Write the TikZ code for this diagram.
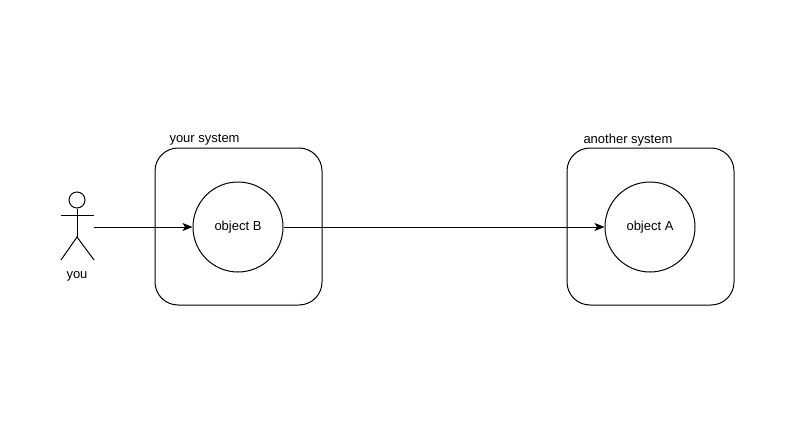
\documentclass[tikz,border=0pt]{standalone}
\usepackage{fontspec}
\setmainfont{Liberation Sans}
\usetikzlibrary{arrows.meta}
\begin{document}
\begin{tikzpicture}[x=1pt,y=-1pt,line width=1pt,
  sysbox/.style={draw,rounded corners=23pt,minimum width=167pt,minimum height=157pt,inner sep=0pt},
  objcirc/.style={draw,circle,minimum size=90pt,inner sep=0pt,font=\fontsize{13}{15}\selectfont},
  lbl/.style={font=\fontsize{13}{15}\selectfont,inner sep=0pt},
  conn/.style={-{Stealth[length=10pt,width=8pt,inset=2.5pt]}}]
\useasboundingbox (0,0) rectangle (800,441);
% boxes
\node[sysbox] (sys1) at (238.5,226.5) {};
\node[sysbox] (sys2) at (650.5,226.5) {};
\node[lbl,anchor=west] (l1) at (169,140) {your system};
\node[lbl,anchor=west] (l2) at (583,140) {another system};
% circles
\node[objcirc] (B) at (238,227) {object B};
\node[objcirc] (A) at (650,227) {object A};
% stick figure
\node[draw,circle,minimum size=16pt,inner sep=0pt] (head) at (77,200) {};
\coordinate (hip) at (77,237);
\coordinate (armL) at (61,215);
\coordinate (armR) at (94,215);
\draw (head.south) -- (hip);
\draw (armL) -- (armR);
\coordinate (footL) at (61,260);
\coordinate (footR) at (94,260);
\draw (footL) -- (hip) -- (footR);
\node[lbl] (you) at (77,276) {you};
\coordinate (actor) at (94,227);
% connectors
\draw[conn] (actor) -- (B.west);
\draw[conn] (B.east) -- (A.west);
\end{tikzpicture}
\end{document}
